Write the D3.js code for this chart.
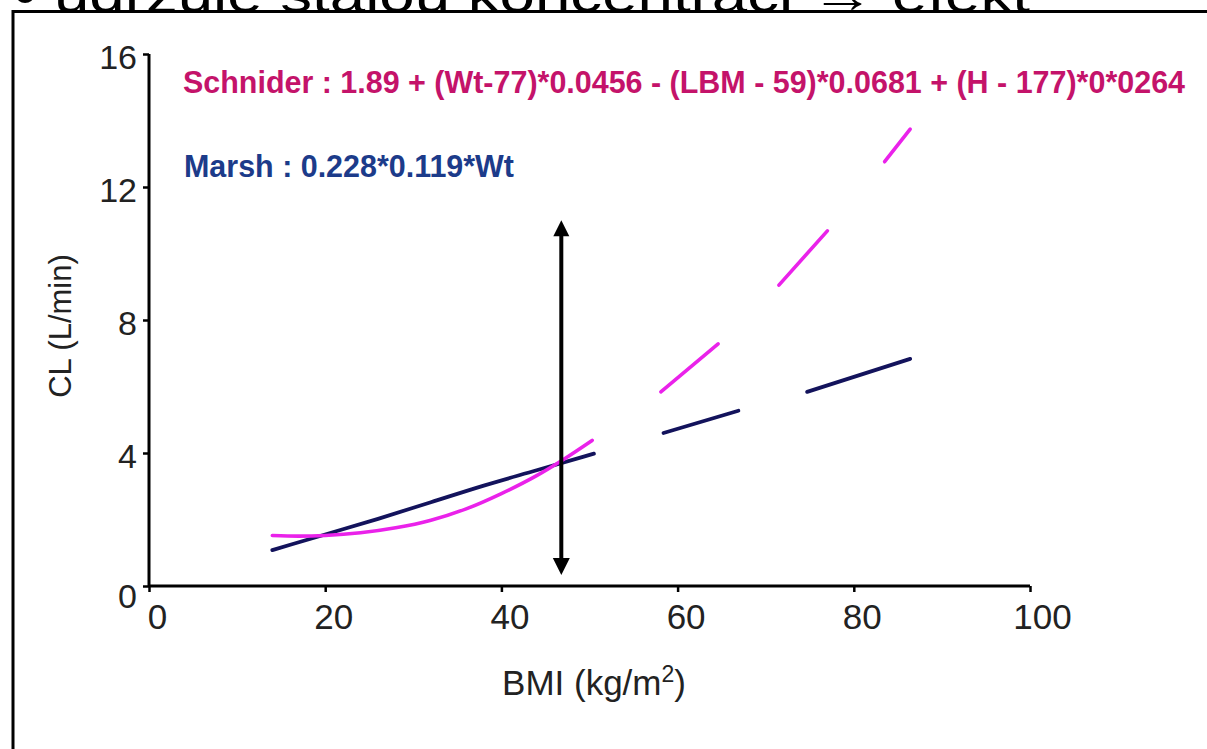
<!DOCTYPE html>
<html>
<head>
<meta charset="utf-8">
<script src="https://cdn.jsdelivr.net/npm/d3@7"></script>
<style>
  html, body { margin: 0; padding: 0; background: #fff; }
  svg { display: block; }
</style>
</head>
<body>
<svg id="chart" width="1207" height="749"></svg>
<script>
// ---- data ----
const headerText = "• udržuje stálou koncentraci → efekt";
const xTicks = [0, 20, 40, 60, 80, 100];
const yTicks = [0, 4, 8, 12, 16];
const xTitle = "BMI (kg/m";
const xTitleSup = "2";
const yTitle = "CL (L/min)";
const schniderLabel = "Schnider : 1.89 + (Wt-77)*0.0456 - (LBM - 59)*0.0681 + (H - 177)*0*0264";
const marshLabel = "Marsh : 0.228*0.119*Wt";

// Schnider curve (BMI, CL) – visible segments
const schniderSegments = [
  [[14, 1.52], [17, 1.50], [20, 1.52], [24, 1.60], [28, 1.75], [32, 1.98], [36, 2.32], [40, 2.78], [44, 3.32], [47, 3.80], [50.3, 4.38]],
  [[58.1, 5.84], [64.6, 7.28]],
  [[71.5, 9.05], [77.0, 10.68]],
  [[83.5, 12.76], [86.4, 13.74]]
];
// Marsh curve (BMI, CL) – visible segments
const marshSegments = [
  [[14, 1.08], [20, 1.55], [26, 2.02], [32, 2.52], [38, 3.02], [44, 3.48], [50.5, 3.98]],
  [[58.4, 4.60], [66.9, 5.27]],
  [[74.7, 5.84], [86.4, 6.83]]
];
// double-headed arrow
const arrowBMI = 46.8;
const arrowCL = [0.33, 11.0];

// ---- drawing ----
const svg = d3.select("#chart");
const x = d3.scaleLinear().domain([0, 100]).range([149, 1030]);
const y = d3.scaleLinear().domain([0, 16]).range([586, 54]);

// header (clipped slide text)
svg.append("clipPath").attr("id", "topclip")
  .append("rect").attr("x", 0).attr("y", 0).attr("width", 1207).attr("height", 11);
svg.append("text")
  .attr("clip-path", "url(#topclip)")
  .attr("x", 14).attr("y", 12)
  .attr("font-family", "Liberation Sans, Arial, sans-serif")
  .attr("font-size", 48)
  .attr("textLength", 1016).attr("lengthAdjust", "spacingAndGlyphs")
  .attr("fill", "#000")
  .text(headerText);

// frame
svg.append("path")
  .attr("d", "M13,749 L13,11.5 L1210,11.5")
  .attr("fill", "none").attr("stroke", "#000").attr("stroke-width", 3);

const font = "Liberation Sans, Arial, Helvetica, sans-serif";

// axes
const yAxis = d3.axisLeft(y).tickValues(yTicks).tickSize(6).tickPadding(6).tickFormat(d3.format("d"));
const gy = svg.append("g").attr("transform", "translate(149,0)").call(yAxis);
gy.select(".domain").attr("d", `M0,${y(16)}V${y(0)}`).attr("stroke", "#000").attr("stroke-width", 3);
gy.selectAll(".tick line").attr("stroke", "#000").attr("stroke-width", 2.5);
gy.selectAll(".tick text").attr("font-family", font).attr("font-size", 34).attr("fill", "#222")
  .attr("dy", d => d === 0 ? "0.62em" : "0.42em");

const xAxis = d3.axisBottom(x).tickValues(xTicks).tickSize(6).tickPadding(12).tickFormat(d3.format("d"));
const gx = svg.append("g").attr("transform", "translate(0,586)").call(xAxis);
gx.select(".domain").attr("d", `M${x(0)},0H${x(100)}`).attr("stroke", "#000").attr("stroke-width", 3);
gx.selectAll(".tick line").attr("stroke", "#000").attr("stroke-width", 2.5);
gx.selectAll(".tick text").attr("font-family", font).attr("font-size", 35).attr("fill", "#222")
  .attr("dx", d => d === 100 ? 12 : 8);

// axis titles
const xt = svg.append("text")
  .attr("x", 594).attr("y", 695)
  .attr("text-anchor", "middle")
  .attr("font-family", font).attr("font-size", 35).attr("fill", "#222");
xt.append("tspan").text(xTitle);
xt.append("tspan").attr("font-size", 23).attr("dy", -13).text(xTitleSup);
xt.append("tspan").attr("dy", 13).text(")");

svg.append("text")
  .attr("transform", "translate(71,326) rotate(-90)")
  .attr("text-anchor", "middle")
  .attr("font-family", font).attr("font-size", 31).attr("fill", "#222")
  .text(yTitle);

// lines
const line = d3.line().x(d => x(d[0])).y(d => y(d[1])).curve(d3.curveMonotoneX);
svg.append("g").selectAll("path").data(marshSegments).join("path")
  .attr("d", line).attr("fill", "none").attr("stroke", "#13135c").attr("stroke-width", 3.8)
  .attr("stroke-linecap", "round");
svg.append("g").selectAll("path").data(schniderSegments).join("path")
  .attr("d", line).attr("fill", "none").attr("stroke", "#ea22ea").attr("stroke-width", 3.6)
  .attr("stroke-linecap", "round");

// arrow
const ax = x(arrowBMI), ay0 = y(arrowCL[0]), ay1 = y(arrowCL[1]);
svg.append("line").attr("x1", ax).attr("x2", ax).attr("y1", ay0 - 14).attr("y2", ay1 + 14)
  .attr("stroke", "#000").attr("stroke-width", 4);
svg.append("path").attr("d", `M${ax},${ay1} L${ax - 8},${ay1 + 16} L${ax + 8},${ay1 + 16} Z`).attr("fill", "#000");
svg.append("path").attr("d", `M${ax},${ay0} L${ax - 8.5},${ay0 - 17} L${ax + 8.5},${ay0 - 17} Z`).attr("fill", "#000");

// formula labels
const narrow = "Liberation Sans Narrow, Arial Narrow, Liberation Sans, Arial, sans-serif";
svg.append("text")
  .attr("x", 183).attr("y", 93)
  .attr("font-family", narrow).attr("font-weight", "bold").attr("font-size", 32)
  .attr("fill", "#c4136a")
  .attr("textLength", 1002).attr("lengthAdjust", "spacingAndGlyphs")
  .text(schniderLabel);
svg.append("text")
  .attr("x", 184).attr("y", 177)
  .attr("font-family", narrow).attr("font-weight", "bold").attr("font-size", 31)
  .attr("fill", "#1c3b8a")
  .attr("textLength", 330).attr("lengthAdjust", "spacingAndGlyphs")
  .text(marshLabel);
</script>
</body>
</html>
